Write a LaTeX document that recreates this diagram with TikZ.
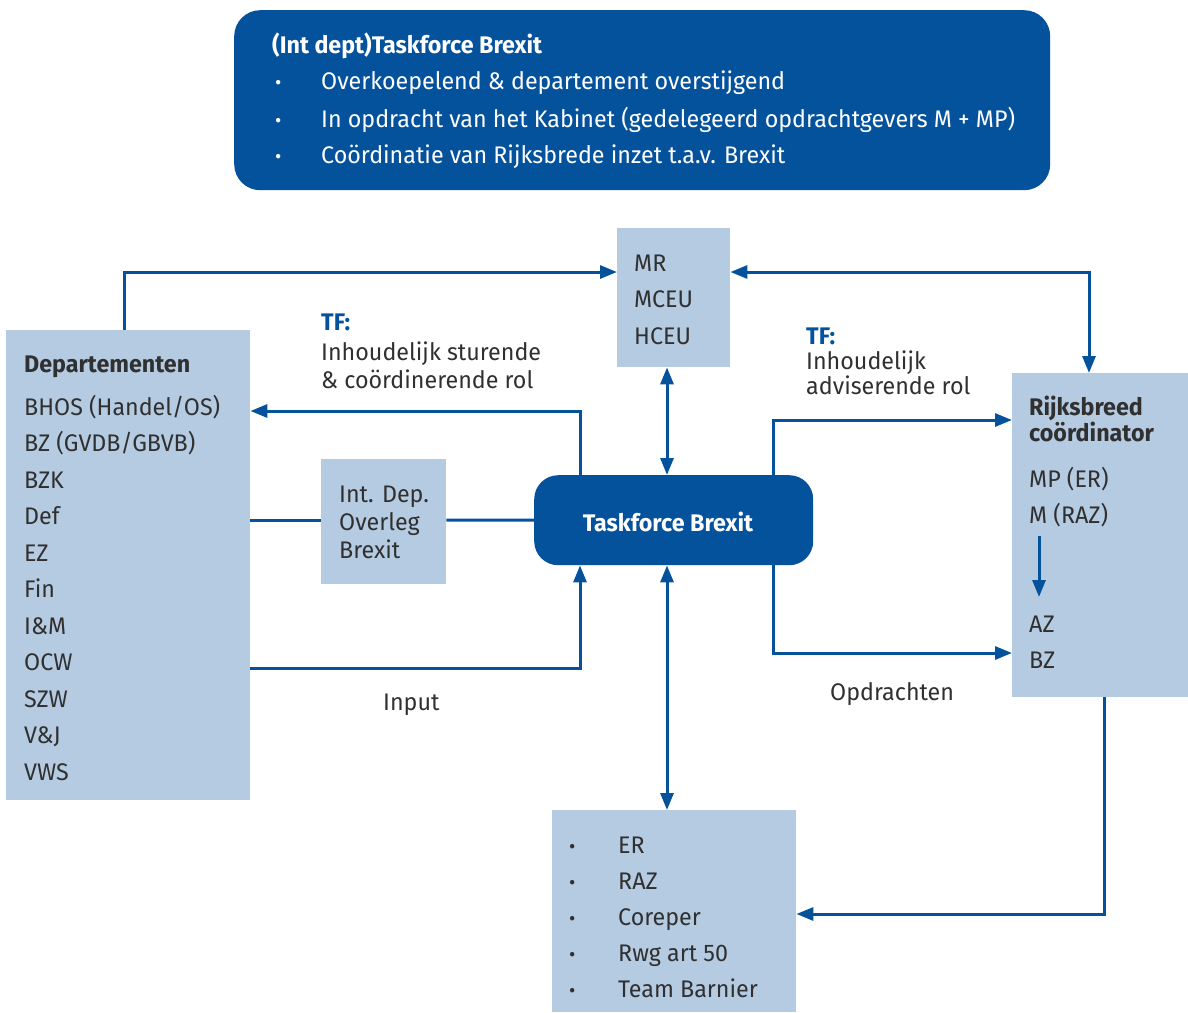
\documentclass[tikz,border=0pt]{standalone}
\usepackage{fontspec}
\setmainfont{Fira Sans}[FakeStretch=0.97]
\usetikzlibrary{arrows.meta}
\definecolor{dblue}{HTML}{04529C}
\definecolor{lblue}{HTML}{B5CBE2}
\definecolor{ink}{HTML}{303030}
\begin{document}
\begin{tikzpicture}[x=1pt,y=-1pt,
  fnt/.style={font=\fontsize{24}{28}\selectfont},
  tline/.style={anchor=base west, inner sep=0pt, text=ink, fnt},
  wline/.style={tline, text=white},
  bline/.style={tline, text=dblue, font=\fontsize{24}{28}\selectfont\bfseries},
  hline/.style={tline, font=\fontsize{24}{28}\selectfont\bfseries},
  bul/.style={anchor=base west, inner sep=0pt, font=\fontsize{20}{24}\selectfont},
  lbox/.style={fill=lblue, draw=none, inner sep=0pt, anchor=north west},
  dbox/.style={fill=dblue, draw=none, inner sep=0pt, anchor=north west, rounded corners=26pt},
  conn/.style={draw=dblue, line width=3pt},
  >={Triangle[length=17pt,width=13pt]}
]
\useasboundingbox (0,0) rectangle (1188,1012);

% boxes
\node[dbox, minimum width=816pt, minimum height=180pt] (top) at (234,10) {};
\node[lbox, minimum width=244pt, minimum height=470pt] (dept) at (6,330) {};
\node[lbox, minimum width=113pt, minimum height=139pt] (mr) at (617,228) {};
\node[lbox, minimum width=125pt, minimum height=125pt] (idep) at (321,459) {};
\node[dbox, rounded corners=24pt, minimum width=279pt, minimum height=90pt] (tf) at (534,475) {};
\node[lbox, minimum width=176pt, minimum height=324pt] (rijk) at (1012,373) {};
\node[lbox, minimum width=244pt, minimum height=202pt] (bot) at (552,810) {};

% top box text
\node[wline, font=\fontsize{24}{28}\selectfont\bfseries] (t0) at (272,53) {(Int dept)Taskforce Brexit};
\node[bul, text=white] (tb1) at (275,89) {•};
\node[bul, text=white] (tb2) at (275,127) {•};
\node[bul, text=white] (tb3) at (275,163) {•};
\node[wline] (t1) at (321,89) {Overkoepelend \& departement overstijgend};
\node[wline] (t2) at (321,127) {In opdracht van het Kabinet (gedelegeerd opdrachtgevers M + MP)};
\node[wline] (t3) at (321,163) {Coördinatie van Rijksbrede inzet t.a.v. Brexit};

% departementen
\node[hline] (dh) at (24,372) {Departementen};
\foreach \t [count=\i] in {BHOS (Handel/OS), BZ (GVDB/GBVB), BZK, Def, EZ, Fin, I\&M, OCW, SZW, V\&J, VWS}
  \node[tline] (d\i) at (24,{415+36.5*(\i-1)}) {\t};

% MR
\node[tline] (m1) at (634,271) {MR};
\node[tline] (m2) at (634,307) {MCEU};
\node[tline] (m3) at (634,344) {HCEU};

% Int dep
\node[tline] (i1) at (339,502) {Int. Dep.};
\node[tline] (i2) at (339,530) {Overleg};
\node[tline] (i3) at (339,558) {Brexit};

% Taskforce
\node[anchor=base, inner sep=0pt, text=white, font=\fontsize{24}{28}\selectfont\bfseries] (tfl) at (668,531) {Taskforce Brexit};

% Rijksbreed
\node[hline] (r1) at (1029,415) {Rijksbreed};
\node[hline] (r2) at (1029,441) {coördinator};
\node[tline] (r3) at (1029,487) {MP (ER)};
\node[tline] (r4) at (1029,523) {M (RAZ)};
\node[tline] (r5) at (1029,632) {AZ};
\node[tline] (r6) at (1029,668) {BZ};
\coordinate (ra) at (1039,536);
\coordinate (rb) at (1039,597);

% bottom list
\foreach \t [count=\i] in {ER, RAZ, Coreper, Rwg art 50, Team Barnier}{
  \node[bul, text=ink] (bb\i) at (569,{853+36.2*(\i-1)}) {•};
  \node[tline] (b\i) at (618,{853+36.2*(\i-1)}) {\t};
}

% labels
\node[bline] (lt1) at (321,330) {TF:};
\node[tline] (lt2) at (321,360) {Inhoudelijk sturende};
\node[tline] (lt3) at (321,388) {\& coördinerende rol};
\node[bline] (rt1) at (806,344) {TF:};
\node[tline, align=left, font=\fontsize{24}{21}\selectfont] (rt2) at (806,394) {Inhoudelijk\\adviserende rol};
\node[tline] (inp) at (383,710) {Input};
\node[tline] (opd) at (830,700) {Opdrachten};

% connectors
\draw[conn,->] ([xshift=118pt]dept.north west) |- ([yshift=-44pt]mr.north west);
\draw[conn,<->] ([yshift=-44pt]mr.north east) -| ([xshift=77pt]rijk.north west);
\draw[conn,<->] ([xshift=50pt]mr.south west) -- ([xshift=133pt]tf.north west);
\draw[conn,->] ([xshift=46pt]tf.north west) |- ([yshift=-81pt]dept.north east);
\draw[conn] ([yshift=-190pt]dept.north east) -- ([yshift=-61pt]idep.north west);
\draw[conn] ([yshift=-61pt]idep.north east) -- (tf.west);
\draw[conn,->] ([yshift=-338pt]dept.north east) -| ([xshift=46pt]tf.south west);
\draw[conn,->] ([xshift=239pt]tf.north west) |- ([yshift=-47pt]rijk.north west);
\draw[conn,->] ([xshift=239pt]tf.south west) |- ([yshift=-280pt]rijk.north west);
\draw[conn,<->] ([xshift=133pt]tf.south west) -- ([xshift=115pt]bot.north west);
\draw[conn,->] ([xshift=92pt]rijk.south west) |- ([yshift=-104pt]bot.north east);
\draw[conn,->] (ra) -- (rb);
\end{tikzpicture}
\end{document}
